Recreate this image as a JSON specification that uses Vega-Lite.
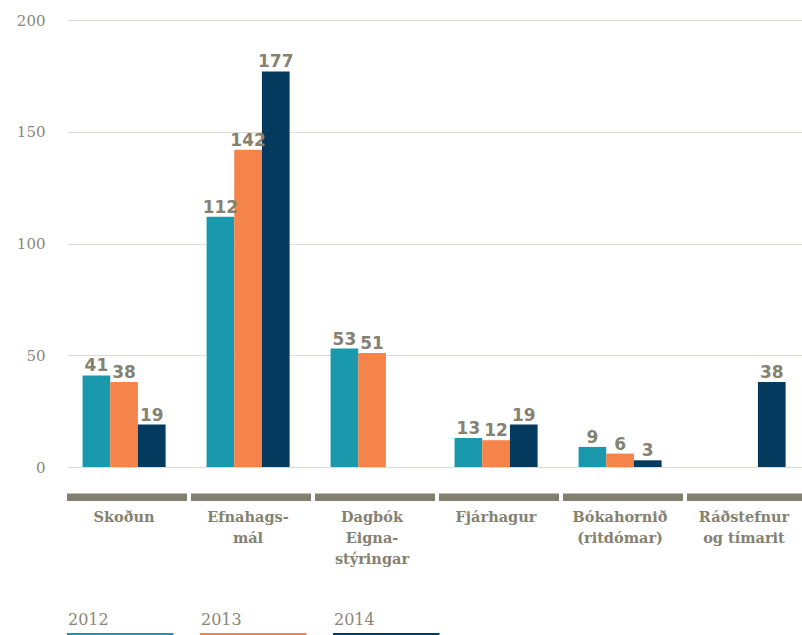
{
  "$schema": "https://vega.github.io/schema/vega-lite/v6.json",
  "width": 735,
  "height": 481,
  "autosize": {"type": "none"},
  "padding": {"left": 67, "top": 20, "right": 0, "bottom": 134},
  "config": {"view": {"stroke": null}, "font": "DejaVu Serif"},
  "data": {
    "values": [
      {"cat": "Skoðun", "year": "2012", "value": 41},
      {"cat": "Skoðun", "year": "2013", "value": 38},
      {"cat": "Skoðun", "year": "2014", "value": 19},
      {"cat": "Efnahags-|mál", "year": "2012", "value": 112},
      {"cat": "Efnahags-|mál", "year": "2013", "value": 142},
      {"cat": "Efnahags-|mál", "year": "2014", "value": 177},
      {"cat": "Dagbók|Eigna-|stýringar", "year": "2012", "value": 53},
      {"cat": "Dagbók|Eigna-|stýringar", "year": "2013", "value": 51},
      {"cat": "Dagbók|Eigna-|stýringar", "year": "2014", "value": null},
      {"cat": "Fjárhagur", "year": "2012", "value": 13},
      {"cat": "Fjárhagur", "year": "2013", "value": 12},
      {"cat": "Fjárhagur", "year": "2014", "value": 19},
      {"cat": "Bókahornið|(ritdómar)", "year": "2012", "value": 9},
      {"cat": "Bókahornið|(ritdómar)", "year": "2013", "value": 6},
      {"cat": "Bókahornið|(ritdómar)", "year": "2014", "value": 3},
      {"cat": "Ráðstefnur|og tímarit", "year": "2012", "value": null},
      {"cat": "Ráðstefnur|og tímarit", "year": "2013", "value": null},
      {"cat": "Ráðstefnur|og tímarit", "year": "2014", "value": 38}
    ]
  },
  "encoding": {
    "x": {
      "field": "cat",
      "type": "nominal",
      "sort": null,
      "title": null,
      "scale": {"range": [0, 744], "paddingInner": 0, "paddingOuter": 0},
      "axis": {
        "labelExpr": "split(datum.label, '|')",
        "labelAngle": 0,
        "domain": false,
        "ticks": false,
        "grid": false,
        "labelPadding": 9,
        "labelBaseline": "top",
        "labelFontSize": 14.5,
        "labelFontWeight": "bold",
        "labelColor": "#858272",
        "labelLineHeight": 21,
        "labelOffset": -5,
        "labelFont": "DejaVu Serif"
      }
    }
  },
  "layer": [
    {
      "mark": {"type": "bar"},
      "encoding": {
        "y": {
          "field": "value",
          "type": "quantitative",
          "scale": {"domain": [-15.2, 200], "nice": false, "zero": false},
          "axis": {
            "values": [0, 50, 100, 150, 200],
            "title": null,
            "domain": false,
            "ticks": false,
            "labelPadding": 22,
            "labelFontSize": 15,
            "labelColor": "#8a8778",
            "labelFont": "DejaVu Serif",
            "gridColor": "#dddcd4",
            "gridWidth": 1.2
          }
        },
        "xOffset": {
          "field": "year",
          "type": "nominal",
          "scale": {"paddingInner": 0, "paddingOuter": 0.74, "align": 0.38}
        },
        "color": {
          "field": "year",
          "type": "nominal",
          "scale": {"domain": ["2012", "2013", "2014"], "range": ["#1a98ac", "#f4844a", "#033a5e"]},
          "legend": {
            "orient": "none",
            "legendX": -3,
            "legendY": 592,
            "direction": "horizontal",
            "title": null,
            "symbolType": "M-1,2.6H20.3V3.8H-1Z",
            "symbolSize": 100,
            "symbolStrokeWidth": 0,
            "symbolOpacity": 1,
            "labelOffset": -12,
            "labelFontSize": 16,
            "labelColor": "#8a8778",
            "labelFont": "DejaVu Serif",
            "columnPadding": 23,
            "padding": 0
          }
        }
      }
    },
    {
      "transform": [{"filter": "datum.year == '2014'"}],
      "mark": {"type": "bar", "color": "#817f6e", "width": 120, "xOffset": -2},
      "encoding": {
        "y": {"datum": -11.8, "type": "quantitative"},
        "y2": {"datum": -15.2}
      }
    },
    {
      "mark": {"type": "text", "baseline": "alphabetic", "dy": -4, "fontSize": 17, "fontWeight": "bold", "color": "#858272", "font": "DejaVu Sans"},
      "encoding": {
        "y": {"field": "value", "type": "quantitative"},
        "xOffset": {"field": "year", "type": "nominal"},
        "text": {"field": "value", "type": "quantitative"}
      }
    }
  ]
}
